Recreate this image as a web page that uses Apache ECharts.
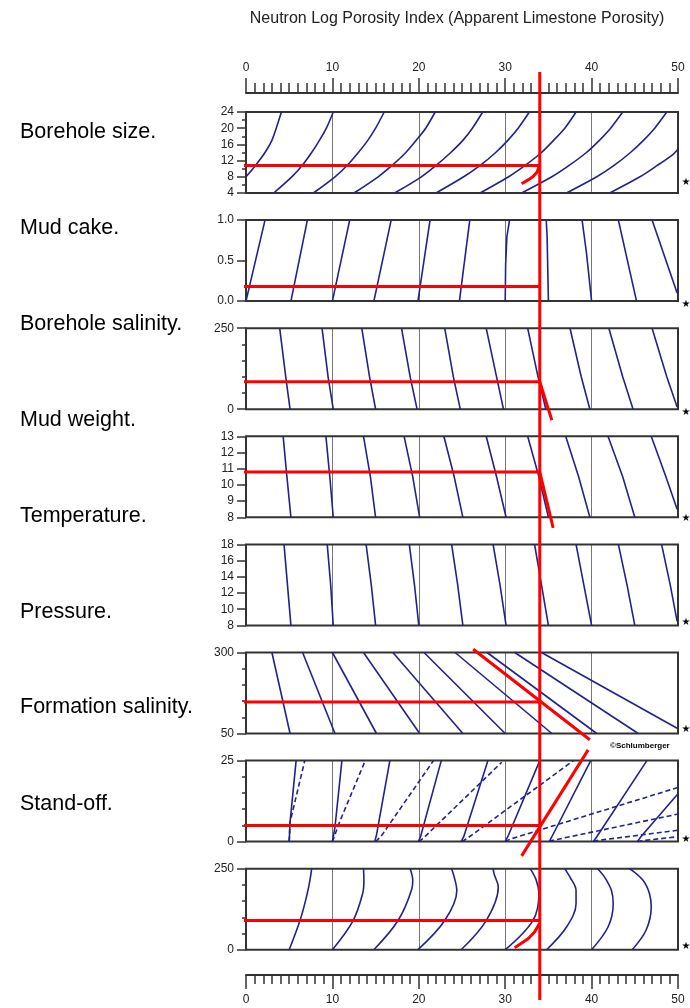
<!DOCTYPE html>
<html><head><meta charset="utf-8">
<script src="https://cdn.jsdelivr.net/npm/echarts@6/dist/echarts.min.js"></script>
<style>html,body{margin:0;padding:0;background:#fff}#c{width:690px;height:1008px}</style>
</head><body><div id="c"></div>
<script>
// ================= DATA =================
const chartTitle = 'Neutron Log Porosity Index (Apparent Limestone Porosity)';
const panelLabels = ['Borehole size.','Mud cake.','Borehole salinity.','Mud weight.','Temperature.','Pressure.','Formation salinity.','Stand-off.'];
const copyrightText = '\u00A9Schlumberger';
const porosityRange = [0, 50];
const porosityMajorStep = 10;
const selectedPorosity = 34;

const yRanges = [[4,24],[0,1],[0,250],[8,13],[8,18],[50,300],[0,25],[0,250]];
const yMajorTicks = [[4,8,12,16,20,24],[0,0.5,1],[0,250],[8,9,10,11,12,13],[8,10,12,14,16,18],[50,300],[0,25],[0,250]];
const yMinorTicks = [[6,10,14,18,22],[],[50,100,150,200],[],[],[100,150,200,250],[5,10,15,20],[50,100,150,200]];

const boreholeSizeCurves = [
  [[0,8],[1.1,10.8],[2.2,14],[3.0,17],[3.5,20],[4.1,24]],
  [[3.2,4],[5.3,8],[6.5,10.8],[7.6,14],[8.5,17],[9.3,20],[10.1,24]],
  [[7.8,4],[10.3,8],[11.7,10.8],[13.0,14],[14.1,17],[15.0,20],[16.0,24]],
  [[12.5,4],[15.3,8],[16.9,10.8],[18.5,14],[19.7,17],[20.8,20],[21.9,24]],
  [[17.2,4],[20.3,8],[22.0,10.8],[23.7,14],[25.1,17],[26.2,20],[27.4,24]],
  [[22.0,4],[25.2,8],[27.1,10.8],[28.9,14],[30.3,17],[31.5,20],[32.8,24]],
  [[27.1,4],[30.4,8],[32.3,10.8],[34.2,14],[35.6,17],[36.9,20],[38.2,24]],
  [[31.9,4],[35.4,8],[37.4,10.8],[39.4,14],[40.9,17],[42.2,20],[43.6,24]],
  [[37.1,4],[40.6,8],[42.6,10.8],[44.5,14],[46.0,17],[47.3,20],[48.7,24]],
  [[42.1,4],[45.6,8],[47.6,10.8],[49.4,13.5],[50,14.8]]
];
const mudCakeCurves = [
  [[0,0],[2.2,1]],
  [[5.2,0],[7.1,1]],
  [[10.0,0],[12.0,1]],
  [[14.8,0],[16.8,1]],
  [[19.9,0],[21.3,1]],
  [[24.7,0],[25.9,1]],
  [[30.0,0],[30.05,0.45],[30.2,0.8],[30.5,1]],
  [[35.0,0],[34.85,0.8],[34.75,1]],
  [[40.0,0],[39.4,0.6],[38.9,1]],
  [[45.2,0],[43.1,1]],
  [[49.9,0.1],[47.0,1]]
];
const boreholeSalinityCurves = [
  [[3.9,250],[4.6,100],[5.1,0]],
  [[8.8,250],[9.5,100],[10.1,0]],
  [[13.4,250],[14.3,100],[15.0,0]],
  [[18.0,250],[19.0,100],[19.8,0]],
  [[23.0,250],[24.0,100],[24.8,0]],
  [[27.8,250],[29.0,100],[29.8,0]],
  [[32.6,250],[33.8,100],[34.7,0]],
  [[37.5,250],[38.8,100],[39.8,0]],
  [[42.0,250],[43.6,100],[44.8,0]],
  [[47.0,250],[48.7,100],[49.9,7]]
];
const mudWeightCurves = [
  [[4.3,13],[4.7,10.7],[5.2,8]],
  [[9.25,13],[9.7,10.5],[10.1,8]],
  [[13.6,13],[14.4,10.5],[15.0,8]],
  [[18.3,13],[19.3,10.5],[20.1,8]],
  [[22.9,13],[24.1,10.5],[25.1,8]],
  [[27.8,13],[29.0,10.5],[30.1,8]],
  [[32.6,13],[33.9,10.5],[35.0,8]],
  [[37.0,13],[38.5,10.5],[39.8,8]],
  [[41.9,13],[43.6,10.5],[45.0,8]],
  [[46.9,13],[48.6,10.5],[49.9,8.5]]
];
const temperatureCurves = [
  [[4.4,18],[4.8,13],[5.2,8]],
  [[9.4,18],[9.8,13],[10.1,8]],
  [[13.9,18],[14.5,13],[15.0,8]],
  [[18.9,18],[19.5,13],[20.0,8]],
  [[23.8,18],[24.5,13],[25.1,8]],
  [[28.6,18],[29.4,13],[30.1,8]],
  [[33.4,18],[34.2,13],[35.0,8]],
  [[38.2,18],[39.1,13],[40.0,8]],
  [[43.1,18],[44.1,13],[45.0,8]],
  [[48.1,18],[49.1,13],[49.9,8.5]]
];
const formationSalinityCurves = [
  [[3.0,300],[5.1,50]],
  [[6.55,300],[10.3,50]],
  [[10.0,300],[15.1,50]],
  [[13.6,300],[20.1,50]],
  [[17.0,300],[25.1,50]],
  [[20.6,300],[30.0,50]],
  [[24.2,300],[35.4,50]],
  [[27.9,300],[40.6,50]],
  [[31.1,300],[45.4,50]],
  [[34.2,300],[49.9,66]]
];
const standOffSolidCurves = [
  [[5.0,0],[5.1,6],[5.8,25]],
  [[10.0,0],[10.3,4.5],[11.1,25]],
  [[14.9,0],[15.1,2],[16.65,25]],
  [[19.95,0],[20.2,1.5],[22.6,25]],
  [[24.9,0],[25.2,1.5],[28.0,25]],
  [[30.0,0],[30.3,1.5],[34.0,25]],
  [[35.1,0],[35.4,1.5],[39.9,25]],
  [[40.2,0],[40.6,1.5],[46.4,25]],
  [[45.3,0],[45.7,1.5],[50,14.8]]
];
const standOffDashedCurves = [
  [[5.0,0],[5.1,6],[6.8,25]],
  [[10.0,0],[10.9,6.5],[13.8,25]],
  [[15.0,0],[15.6,1.5],[21.7,25]],
  [[20.0,0],[20.5,1],[29.6,24.5]],
  [[25.0,0],[25.5,0.8],[37.9,25]],
  [[30.0,0],[30.6,0.8],[50,16.7]],
  [[35.1,0],[35.7,0.5],[50,8.5]],
  [[40.2,0],[40.8,0.4],[50,3.5]],
  [[45.3,0],[45.9,0.3],[50,1.5]]
];
const lastPanelCurves = [
  [[5.0,0],[6.25,90],[7.0,163],[7.4,214],[7.6,250]],
  [[10.0,0],[12.4,90],[13.5,173],[13.65,214],[13.6,250]],
  [[14.8,0],[17.6,90],[19.2,188],[19.3,214],[19.0,250]],
  [[19.9,0],[23.0,90],[24.4,183],[24.1,224],[23.8,250]],
  [[24.9,0],[27.8,90],[29.2,193],[28.7,235],[28.6,250]],
  [[30.0,0],[33.2,90],[33.9,173],[33.6,214],[32.9,250]],
  [[34.8,0],[37.1,70],[38.2,142],[38.2,183],[37.5,224],[36.9,250]],
  [[40.0,0],[41.9,70],[42.5,142],[42.3,183],[41.5,224],[40.7,250]],
  [[44.7,0],[46.3,60],[46.9,132],[46.7,173],[45.95,214],[44.4,250]]
];

// red construction lines (data units of each panel)
const redBoreholeSize = [[[-2.7,10.8],[34,10.8]], [[31.9,6.3],[32.7,7.3],[33.2,8.0],[33.7,9.2],[33.95,10.8]]];
const redMudCake = [[[-2.7,0.18],[34,0.18]]];
const redBoreholeSalinity = [[[-2.7,85],[34,85]], [[34,85],[35.4,-34]]];
const redMudWeight = [[[-2.7,10.8],[34,10.8]], [[34,10.8],[35.55,7.35]]];
const redTemperature = [];
const redFormationSalinity = [[[-2.7,147.6],[34,147.6]], [[26.3,310],[39.8,30.7]]];
const redStandOff = [[[-2.7,5.0],[34,5.0]], [[31.9,-4.4],[39.6,28.3]]];
const redLastPanel = [[[-2.7,90.5],[34,90.5]], [[31.1,6],[31.7,16.5],[32.65,34],[33.4,54.5],[33.95,80]]];

// ================= LAYOUT / STYLE =================
const LEFT = 246, RIGHT = 12, PANEL_TOP0 = 112, PANEL_PITCH = 108.1, PANEL_H = 81;
const labelCenters = [132, 228, 324, 420, 516, 612, 707, 804];
const starCenters = [182, 304, 412, 518, 622, 729, 839, 946];
const BLUE = '#22228a', RED = '#ff0000', INK = '#222';

function hasFont(name){
  const ctx = document.createElement('canvas').getContext('2d');
  const s = 'mmmmmmmmmmlli1WQ0123456789abcdef';
  ctx.font = '40px monospace'; const a = ctx.measureText(s).width;
  ctx.font = '40px "' + name + '", monospace'; const b = ctx.measureText(s).width;
  return Math.abs(a - b) > 0.5;
}
const NARROW = hasFont('Liberation Sans Narrow');
const labelFont = NARROW ? {fontFamily:'Liberation Sans Narrow', fontSize:26} : {fontFamily:'Liberation Sans', fontSize:21.5};
const numFont = NARROW ? {fontFamily:'Liberation Sans Narrow', fontSize:14.5} : {fontFamily:'Liberation Sans', fontSize:12};
const titleFont = {fontFamily:'Liberation Sans', fontSize:16};

const panels = [
  {curves: boreholeSizeCurves, smooth: 0.3, red: redBoreholeSize},
  {curves: mudCakeCurves, smooth: 0, red: redMudCake},
  {curves: boreholeSalinityCurves, smooth: 0, red: redBoreholeSalinity},
  {curves: mudWeightCurves, smooth: 0, red: redMudWeight},
  {curves: temperatureCurves, smooth: 0, red: redTemperature},
  {curves: formationSalinityCurves, smooth: 0, red: redFormationSalinity},
  {curves: standOffSolidCurves, dashed: standOffDashedCurves, smooth: 0, red: redStandOff},
  {curves: lastPanelCurves, smooth: 0.35, red: redLastPanel}
];

const grids = [], xAxes = [], yAxes = [], series = [];
function lineSeries(xi, yi, data, style, extra){
  return Object.assign({type:'line', xAxisIndex:xi, yAxisIndex:yi, data:data, showSymbol:false, symbol:'none',
    silent:true, animation:false, lineStyle:style}, extra || {});
}

panels.forEach((p, i) => {
  const top = PANEL_TOP0 + PANEL_PITCH * i;
  grids.push({left:LEFT, right:RIGHT, top:top, height:PANEL_H, show:true, borderColor:'#333', borderWidth:2, backgroundColor:'transparent', z:3});
  xAxes.push({gridIndex:i, type:'value', min:porosityRange[0], max:porosityRange[1], interval:porosityMajorStep,
    axisLine:{show:false}, axisTick:{show:false}, axisLabel:{show:false},
    splitLine:{show:true, lineStyle:{color:'#777', width:1}}});
  const [mn, mx] = yRanges[i];
  yAxes.push({gridIndex:i, type:'value', position:'left', offset:0, min:mn, max:mx, axisLine:{show:false}, splitLine:{show:false},
    axisTick:{show:true, length:9, customValues:yMajorTicks[i], lineStyle:{color:'#333', width:1.5}},
    axisLabel:{show:true, customValues:yMajorTicks[i], margin:12, color:INK,
      fontFamily:numFont.fontFamily, fontSize:numFont.fontSize,
      formatter: v => (i === 1 ? Number(v).toFixed(1) : String(v))}});
  yAxes.push({gridIndex:i, type:'value', position:'left', offset:0, min:mn, max:mx, axisLine:{show:false}, splitLine:{show:false},
    axisTick:{show:yMinorTicks[i].length > 0, length:4, customValues:yMinorTicks[i], lineStyle:{color:'#333', width:1.5}},
    axisLabel:{show:false}});
  p.curves.forEach(c => series.push(lineSeries(i, 2*i, c, {color:BLUE, width:1.6}, {smooth:p.smooth, z:3})));
  (p.dashed || []).forEach(c => series.push(lineSeries(i, 2*i, c, {color:BLUE, width:1.6, type:[5,3]}, {smooth:p.smooth, z:3})));
  p.red.forEach(c => series.push(lineSeries(i, 2*i, c, {color:RED, width:3, cap:'butt'}, {clip:false, z:6})));
});

// top porosity axis (grid 8)
grids.push({left:LEFT, right:RIGHT, top:92, height:1, show:false});
xAxes.push({gridIndex:8, type:'value', position:'top', min:porosityRange[0], max:porosityRange[1], interval:porosityMajorStep,
  axisLine:{show:true, lineStyle:{color:'#333', width:2}},
  axisTick:{show:true, length:15, lineStyle:{color:'#333', width:1.5}},
  minorTick:{show:true, splitNumber:10, length:10, lineStyle:{color:'#333', width:1.5}},
  axisLabel:{show:true, margin:18, color:INK, fontFamily:numFont.fontFamily, fontSize:numFont.fontSize},
  splitLine:{show:false}});
yAxes.push({gridIndex:8, type:'value', show:false});
// bottom porosity axis (grid 9)
grids.push({left:LEFT, right:RIGHT, top:974, height:1, show:false});
xAxes.push({gridIndex:9, type:'value', position:'bottom', min:porosityRange[0], max:porosityRange[1], interval:porosityMajorStep,
  axisLine:{show:true, lineStyle:{color:'#333', width:2}},
  axisTick:{show:true, length:14, lineStyle:{color:'#333', width:1.5}},
  minorTick:{show:true, splitNumber:10, length:9, lineStyle:{color:'#333', width:1.5}},
  axisLabel:{show:true, margin:19, color:INK, fontFamily:numFont.fontFamily, fontSize:numFont.fontSize},
  splitLine:{show:false}});
yAxes.push({gridIndex:9, type:'value', show:false});
// overlay grid for the selected porosity line (grid 10)
grids.push({left:LEFT, right:RIGHT, top:72, height:928, show:false});
xAxes.push({gridIndex:10, type:'value', min:porosityRange[0], max:porosityRange[1], show:false});
yAxes.push({gridIndex:10, type:'value', min:0, max:1, show:false});
series.push(lineSeries(10, 18, [[selectedPorosity,0],[selectedPorosity,1]], {color:RED, width:3}, {clip:false, z:7}));

const graphics = [];
graphics.push({type:'text', x:457, y:19, z:10, style:{text:chartTitle, fill:INK, font: titleFont.fontSize + 'px "' + titleFont.fontFamily + '"',
  align:'center', textAlign:'center', verticalAlign:'middle', textVerticalAlign:'middle'}});
panelLabels.forEach((t, i) => graphics.push({type:'text', x:20, y:labelCenters[i], z:10,
  style:{text:t, fill:'#000', font: labelFont.fontSize + 'px "' + labelFont.fontFamily + '"', align:'left', textAlign:'left', verticalAlign:'middle', textVerticalAlign:'middle'}}));
starCenters.forEach(y => graphics.push({type:'text', x:686, y:y, z:10,
  style:{text:'\u2605', fill:'#000', font:'10px "DejaVu Sans"', align:'center', textAlign:'center', verticalAlign:'middle', textVerticalAlign:'middle'}}));
graphics.push({type:'text', x:610, y:746, z:10, style:{text:copyrightText, fill:'#000',
  font:'bold 8px "' + numFont.fontFamily + '"', align:'left', textAlign:'left', verticalAlign:'middle', textVerticalAlign:'middle'}});

const chart = echarts.init(document.getElementById('c'), null, {renderer:'canvas', width:690, height:1008});
chart.setOption({
  animation:false, backgroundColor:'#fff',
  grid:grids, xAxis:xAxes, yAxis:yAxes, series:series, graphic:graphics
});
</script></body></html>
